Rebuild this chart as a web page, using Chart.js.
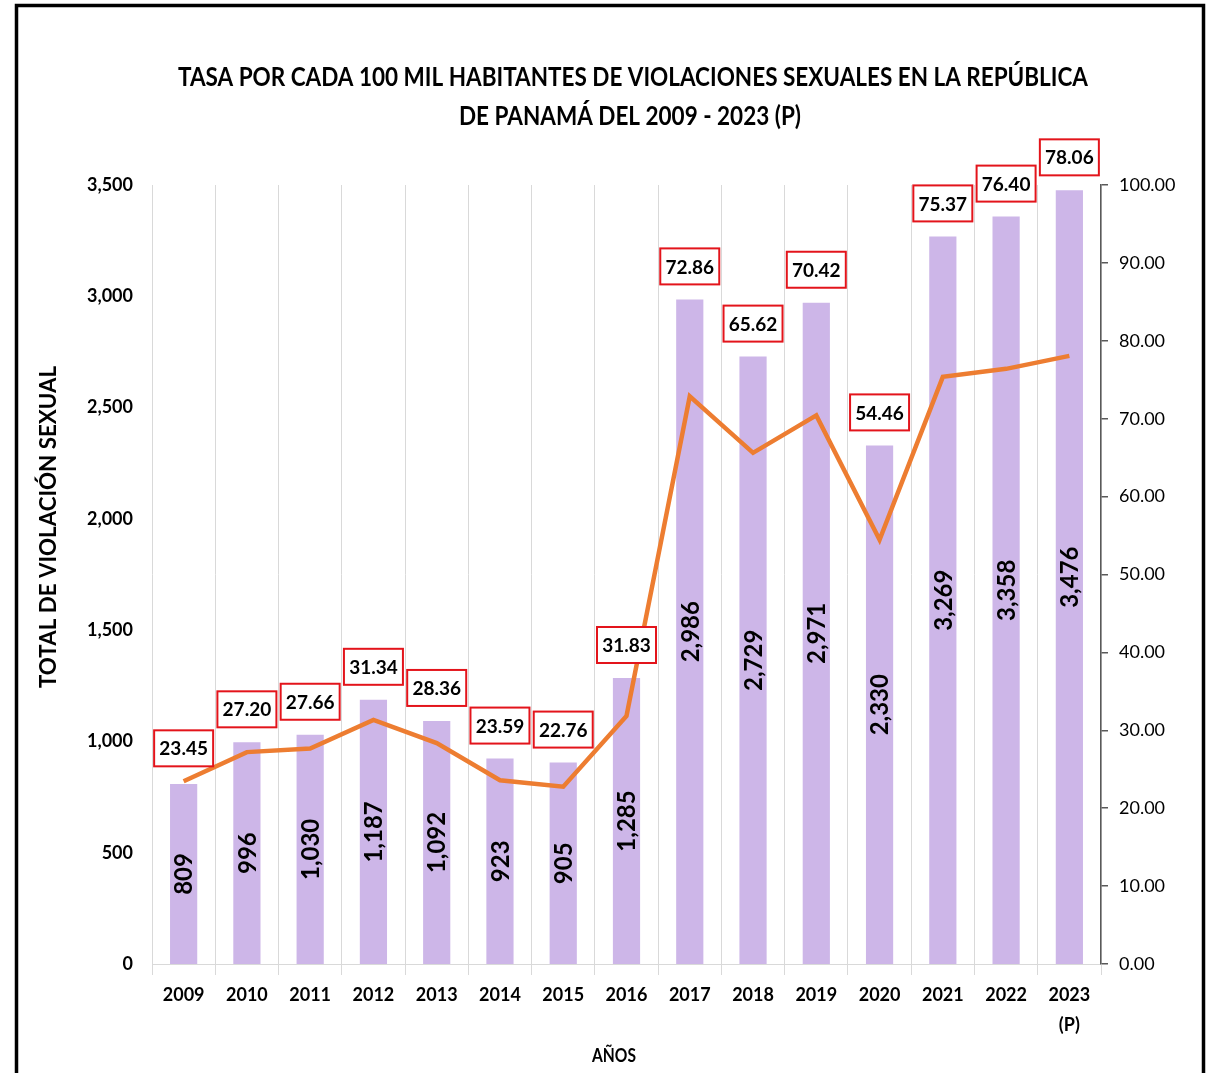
<!DOCTYPE html>
<html>
<head>
<meta charset="utf-8">
<script src="https://cdn.jsdelivr.net/npm/chart.js@4.4.1/dist/chart.umd.min.js"></script>
<style>
  html, body { margin: 0; padding: 0; background: #fff; }
  canvas { display: block; }
</style>
</head>
<body>
<canvas id="c" width="1209" height="1073"></canvas>
<script>
// ---- data ----
const years = ['2009','2010','2011','2012','2013','2014','2015','2016','2017','2018','2019','2020','2021','2022',['2023','(P)']];
const totals = [809, 996, 1030, 1187, 1092, 923, 905, 1285, 2986, 2729, 2971, 2330, 3269, 3358, 3476];
const rates = [23.45, 27.20, 27.66, 31.34, 28.36, 23.59, 22.76, 31.83, 72.86, 65.62, 70.42, 54.46, 75.37, 76.40, 78.06];
const leftTicks = [0, 500, 1000, 1500, 2000, 2500, 3000, 3500];
const rightTicks = [0, 10, 20, 30, 40, 50, 60, 70, 80, 90, 100];
const titleLines = ['TASA POR CADA 100 MIL HABITANTES DE VIOLACIONES SEXUALES EN LA REPÚBLICA', 'DE PANAMÁ DEL 2009 - 2023 (P)'];
const yTitle = 'TOTAL DE VIOLACIÓN SEXUAL';
const xTitle = 'AÑOS';

const FONT = 'Lato';
const fmtInt = v => Number(v).toLocaleString('en-US');

const decor = {
  id: 'decor',
  beforeDraw(chart) {
    const ctx = chart.ctx;
    ctx.save();
    ctx.fillStyle = '#fff';
    ctx.fillRect(0, 0, chart.width, chart.height);
    ctx.restore();
  },
  afterDatasetsDraw(chart) {
    const ctx = chart.ctx;
    const barMeta = chart.getDatasetMeta(1);
    const lineMeta = chart.getDatasetMeta(0);
    ctx.save();
    // bar value labels (rotated, centered in bar)
    ctx.fillStyle = '#000';
    ctx.font = `bold 24px ${FONT}`;
    ctx.textAlign = 'center';
    ctx.textBaseline = 'middle';
    barMeta.data.forEach((bar, i) => {
      const cy = (bar.y + bar.base) / 2;
      ctx.save();
      ctx.translate(bar.x, cy);
      ctx.rotate(-Math.PI / 2);
      ctx.fillText(fmtInt(totals[i]), 0, 1);
      ctx.restore();
    });
    // line value labels in red boxes above bars
    ctx.font = `bold 19px ${FONT}`;
    lineMeta.data.forEach((pt, i) => {
      const bar = barMeta.data[i];
      const top = Math.min(bar.y, pt.y);
      const cy = top - 33;
      const txt = rates[i].toFixed(2);
      const w = 59, h = 36;
      ctx.fillStyle = '#fff';
      ctx.fillRect(pt.x - w / 2, cy - h / 2, w, h);
      ctx.strokeStyle = '#E3141B';
      ctx.lineWidth = 2;
      ctx.strokeRect(pt.x - w / 2, cy - h / 2, w, h);
      ctx.fillStyle = '#000';
      ctx.fillText(txt, pt.x, cy + 1);
    });
    ctx.restore();
  },
  afterDraw(chart) {
    const ctx = chart.ctx;
    ctx.save();
    // title
    ctx.fillStyle = '#000';
    ctx.font = `bold 27px ${FONT}`;
    ctx.textAlign = 'center';
    ctx.textBaseline = 'alphabetic';
    const w1 = ctx.measureText(titleLines[0]).width;
    const sx = 910 / w1;
    ctx.save(); ctx.translate(633, 86); ctx.scale(sx, 1); ctx.fillText(titleLines[0], 0, 0); ctx.restore();
    ctx.save(); ctx.translate(630, 125); ctx.scale(sx, 1); ctx.fillText(titleLines[1], 0, 0); ctx.restore();
    // y axis title
    ctx.font = `bold 23px ${FONT}`;
    const wy = ctx.measureText(yTitle).width;
    ctx.save();
    ctx.translate(56, 527);
    ctx.rotate(-Math.PI / 2);
    ctx.scale(322 / wy, 1);
    ctx.fillText(yTitle, 0, 0);
    ctx.restore();
    // x axis title
    ctx.font = `bold 18px ${FONT}`;
    const wx = ctx.measureText(xTitle).width;
    ctx.save();
    ctx.translate(614, 1062);
    ctx.scale(44 / wx, 1);
    ctx.fillText(xTitle, 0, 0);
    ctx.restore();
    // frame
    ctx.strokeStyle = '#000';
    ctx.lineWidth = 3.5;
    ctx.strokeRect(16.5, 5.5, 1187, 1100);
    ctx.restore();
  }
};

new Chart(document.getElementById('c'), {
  data: {
    labels: years,
    datasets: [
      {
        type: 'line',
        label: 'Tasa',
        data: rates,
        yAxisID: 'y1',
        borderColor: '#ED7D31',
        borderWidth: 4.5,
        pointRadius: 0,
        tension: 0,
        order: 0
      },
      {
        type: 'bar',
        label: 'Total',
        data: totals,
        yAxisID: 'y',
        backgroundColor: '#CDB6E8',
        barPercentage: 0.43,
        categoryPercentage: 1,
        order: 1
      }
    ]
  },
  options: {
    responsive: false,
    animation: false,
    devicePixelRatio: 1,
    layout: { padding: { top: 185, left: 0, right: 0, bottom: 0 } },
    plugins: { legend: { display: false }, tooltip: { enabled: false }, title: { display: false } },
    scales: {
      x: {
        type: 'category',
        offset: true,
        grid: { offset: true, color: '#D9D9D9', lineWidth: 1, drawTicks: true, tickLength: 11 },
        border: { display: true, color: '#D9D9D9', width: 1 },
        ticks: { color: '#000', font: { family: FONT, weight: 'bold', size: 18, lineHeight: 1.67 }, padding: 5, maxRotation: 0, autoSkip: false },
        afterFit(s) { s.height = 109; }
      },
      y: {
        type: 'linear',
        position: 'left',
        min: leftTicks[0],
        max: leftTicks[leftTicks.length - 1],
        afterBuildTicks(s) { s.ticks = leftTicks.map(v => ({ value: v })); },
        ticks: { color: '#000', font: { family: FONT, weight: 'bold', size: 18 }, padding: 19, callback: v => fmtInt(v) },
        grid: { display: false, drawTicks: false },
        border: { display: false },
        afterFit(s) { s.width = 152; }
      },
      y1: {
        type: 'linear',
        position: 'right',
        min: rightTicks[0],
        max: rightTicks[rightTicks.length - 1],
        afterBuildTicks(s) { s.ticks = rightTicks.map(v => ({ value: v })); },
        ticks: { color: '#000', font: { family: FONT, size: 18 }, padding: 11, callback: v => Number(v).toFixed(2) },
        grid: { drawOnChartArea: false, drawTicks: true, tickLength: 7, color: '#595959', lineWidth: 1.5 },
        border: { display: true, color: '#595959', width: 1.5 },
        afterFit(s) { s.width = 108; }
      }
    }
  },
  plugins: [decor]
});
</script>
</body>
</html>
